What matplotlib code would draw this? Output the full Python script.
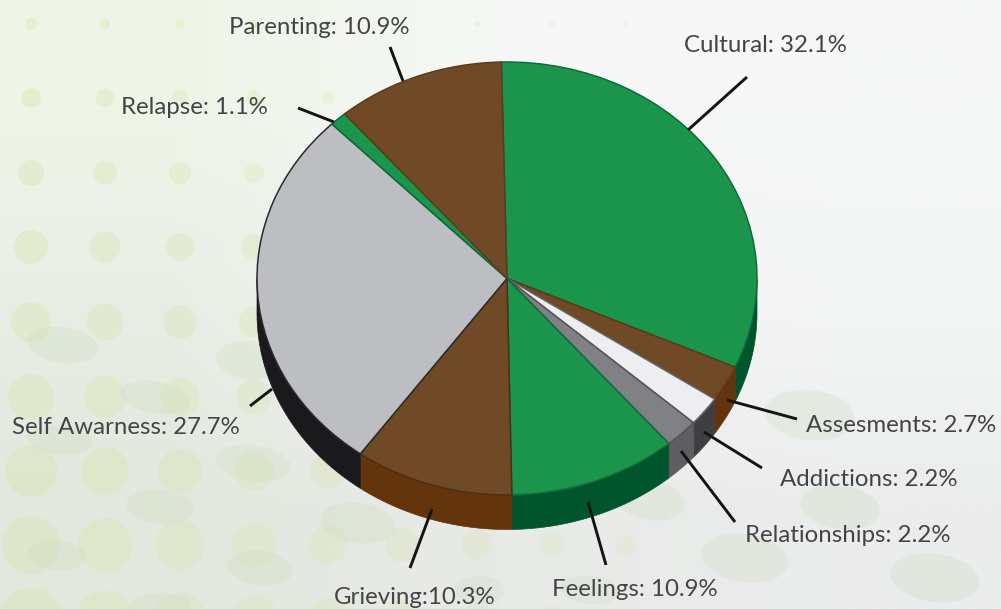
import numpy as np
import matplotlib
matplotlib.use('Agg')
import matplotlib.pyplot as plt
from matplotlib.patches import Circle, Ellipse, Polygon

W, H = 1001, 609

# chart data, clockwise from the top
labels = ['Cultural: 32.1%', 'Assesments: 2.7%', 'Addictions: 2.2%', 'Relationships: 2.2%',
          'Feelings: 10.9%', 'Grieving:10.3%', 'Self Awarness: 27.7%', 'Relapse: 1.1%', 'Parenting: 10.9%']
values = [32.1, 2.7, 2.2, 2.2, 10.9, 10.3, 27.7, 1.1, 10.9]
top_colors = ['#1a954b', '#704a26', '#eeeef0', '#808184', '#1a954b', '#704a26', '#bdbec1', '#1a954b', '#704a26']
edge_colors = ['#0f6b3a', '#5c3a1c', '#666668', '#555557', '#0f6b3a', '#4a3018', '#2a2a2c', '#0f6b3a', '#5c3a1c']
side_colors = ['#00552c', '#64340c', '#3f3f41', '#5d5e60', '#00552c', '#64340c', '#1a1a1c', '#00552c', '#64340c']

# label left edge / vertical centre, in pixels
label_x = [684, 806, 780, 745, 552, 334, 12, 121, 229]
label_y = [46, 425, 479, 535, 590, 598, 428, 107, 27]

# leader lines (x0, y0, x1, y1), in pixels
leaders = [(688, 130, 747, 77), (727, 400, 797, 419), (704, 432, 762, 468), (681, 451, 735, 522),
           (588, 502, 606, 565), (432, 509, 410, 568), (272, 389, 250, 406), (334, 122, 298, 108),
           (403, 81, 390, 47)]

# background decoration
dot_cols = [31, 105, 180, 254, 328, 403, 477, 552, 626]
dot_rows = [24, 98, 173, 247, 322, 397, 471, 545, 620]
dot_radii = [6, 10, 13, 17, 20, 23, 26, 29, 32]
blobs = [(63, 345, 36, 18, 8), (155, 397, 35, 16, 10), (60, 440, 33, 15, 5), (253, 463, 38, 18, 8),
         (160, 507, 34, 17, 6), (57, 555, 29, 15, 5), (260, 568, 33, 17, 6), (358, 523, 38, 20, 8),
         (250, 360, 34, 19, 5), (160, 605, 30, 12, 0), (650, 500, 35, 20, 10), (745, 558, 44, 24, 8),
         (810, 415, 45, 25, 6), (840, 507, 40, 22, 8), (935, 578, 45, 24, 8), (590, 590, 30, 14, 5),
         (480, 590, 25, 14, 5)]

cx, cy, rx, ry = 507, 278.5, 250, 216.5
depth = 34.5

fig = plt.figure(figsize=(W / 100, H / 100), dpi=100)

# background: gradient, dots, blobs in pixel coords
bg = fig.add_axes([0, 0, 1, 1])
bg.set_xlim(0, W)
bg.set_ylim(H, 0)
bg.axis('off')
corners = np.array([[[238, 245, 231], [246, 248, 246], [246, 247, 247]],
                    [[232, 238, 229], [243, 244, 243], [244, 245, 245]],
                    [[227, 232, 222], [232, 234, 231], [235, 236, 236]]]) / 255
bg.imshow(corners, extent=(0, W, H, 0), interpolation='bilinear', aspect='auto', zorder=0)
for i, x in enumerate(dot_cols):
    for r, y in zip(dot_radii, dot_rows):
        scale = 1 - 0.08 * i
        bg.add_patch(Circle((x, y), r * scale, color='#d6e2a6', alpha=0.34 * (1 - 0.06 * i), lw=0, zorder=1))
for x, y, a, b, ang in blobs:
    bg.add_patch(Ellipse((x, y), 2 * a, 2 * b, angle=ang, color='#c8dcb8', alpha=0.26, lw=0, zorder=2))

# pie, in an axes scaled so the unit circle lands on the ellipse
ax = fig.add_axes([0, 0, 1, 1])
ax.patch.set_alpha(0)
wedges, _ = ax.pie(values, startangle=91.3, counterclock=False, colors=top_colors,
                   wedgeprops={'linewidth': 1.1, 'zorder': 5})
for w, e in zip(wedges, edge_colors):
    w.set_edgecolor(e)
ax.set_aspect('auto')
ax.set_xlim(-cx / rx, (W - cx) / rx)
ax.set_ylim((cy - H) / ry, cy / ry)
ax.axis('off')

# side wall for the front half
d = depth / ry
for w, c in zip(wedges, side_colors):
    t = np.radians(np.linspace(w.theta1, w.theta2, 300))
    t = t[np.sin(t) < 0]
    if len(t) == 0:
        continue
    x, y = np.cos(t), np.sin(t)
    pts = np.vstack([np.column_stack([x, y]), np.column_stack([x[::-1], y[::-1] - d])])
    ax.add_patch(Polygon(pts, closed=True, facecolor=c, edgecolor=c, lw=0.5, zorder=4))

# leaders and text on top
top = fig.add_axes([0, 0, 1, 1])
top.patch.set_alpha(0)
top.set_xlim(0, W)
top.set_ylim(H, 0)
top.axis('off')
for x0, y0, x1, y1 in leaders:
    top.plot([x0, x1], [y0, y1], color='#141416', lw=2.1, solid_capstyle='butt')
for s, x, y in zip(labels, label_x, label_y):
    top.text(x, y, s, fontsize=17.3, family='Lato', color='#444446', ha='left', va='center')

fig.savefig('out.png', dpi=100)
